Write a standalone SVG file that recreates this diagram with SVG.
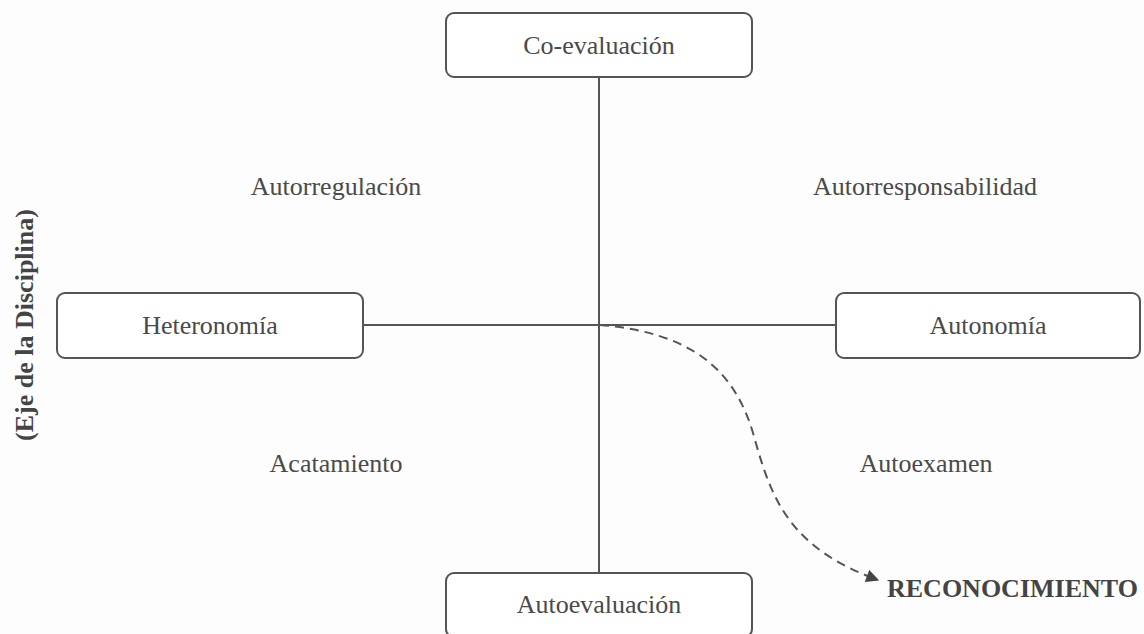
<svg xmlns="http://www.w3.org/2000/svg" width="1144" height="634" viewBox="0 0 1144 634">
<style>
.box{fill:#fff;stroke:#555;stroke-width:2}
.lbl{font-family:"Liberation Serif","Times New Roman",serif;font-size:26px;fill:#4a4a4a;text-anchor:middle}
.bold{font-weight:bold;fill:#444}
.ln{stroke:#555;stroke-width:2;fill:none}
</style>
<defs>
<marker id="arr" viewBox="0 0 10 10" refX="9" refY="5" markerWidth="15" markerHeight="13" markerUnits="userSpaceOnUse" orient="auto">
<path d="M0,0 L10,5 L0,10 Z" fill="#444"/>
</marker>
</defs>
<rect width="1144" height="634" fill="#fdfdfd"/>
<g id="connectors">
<line class="ln" x1="599" y1="77" x2="599" y2="573"/>
<line class="ln" x1="363" y1="325" x2="836" y2="325"/>
<path class="ln" d="M600,325 C695,333 737,372 755,440 C772,500 790,548 878,580" stroke-dasharray="9,6" marker-end="url(#arr)"/>
</g>
<g id="co-evaluacion">
<rect class="box" x="446" y="13" width="306" height="64" rx="8"/>
<text class="lbl" x="599" y="54">Co-evaluación</text>
</g>
<g id="heteronomia">
<rect class="box" x="57" y="293" width="306" height="65" rx="8"/>
<text class="lbl" x="210" y="334">Heteronomía</text>
</g>
<g id="autonomia">
<rect class="box" x="836" y="293" width="304" height="65" rx="8"/>
<text class="lbl" x="988" y="334">Autonomía</text>
</g>
<g id="autoevaluacion">
<rect class="box" x="446" y="573" width="306" height="64" rx="8"/>
<text class="lbl" x="599" y="613">Autoevaluación</text>
</g>
<g id="labels">
<text class="lbl" x="336" y="195">Autorregulación</text>
<text class="lbl" x="925" y="195">Autorresponsabilidad</text>
<text class="lbl" x="336" y="472">Acatamiento</text>
<text class="lbl" x="926" y="472">Autoexamen</text>
<text class="lbl bold" x="887" y="597" style="text-anchor:start">RECONOCIMIENTO</text>
<text class="lbl bold" transform="translate(33,325) rotate(-90)">(Eje de la Disciplina)</text>
</g>
</svg>
